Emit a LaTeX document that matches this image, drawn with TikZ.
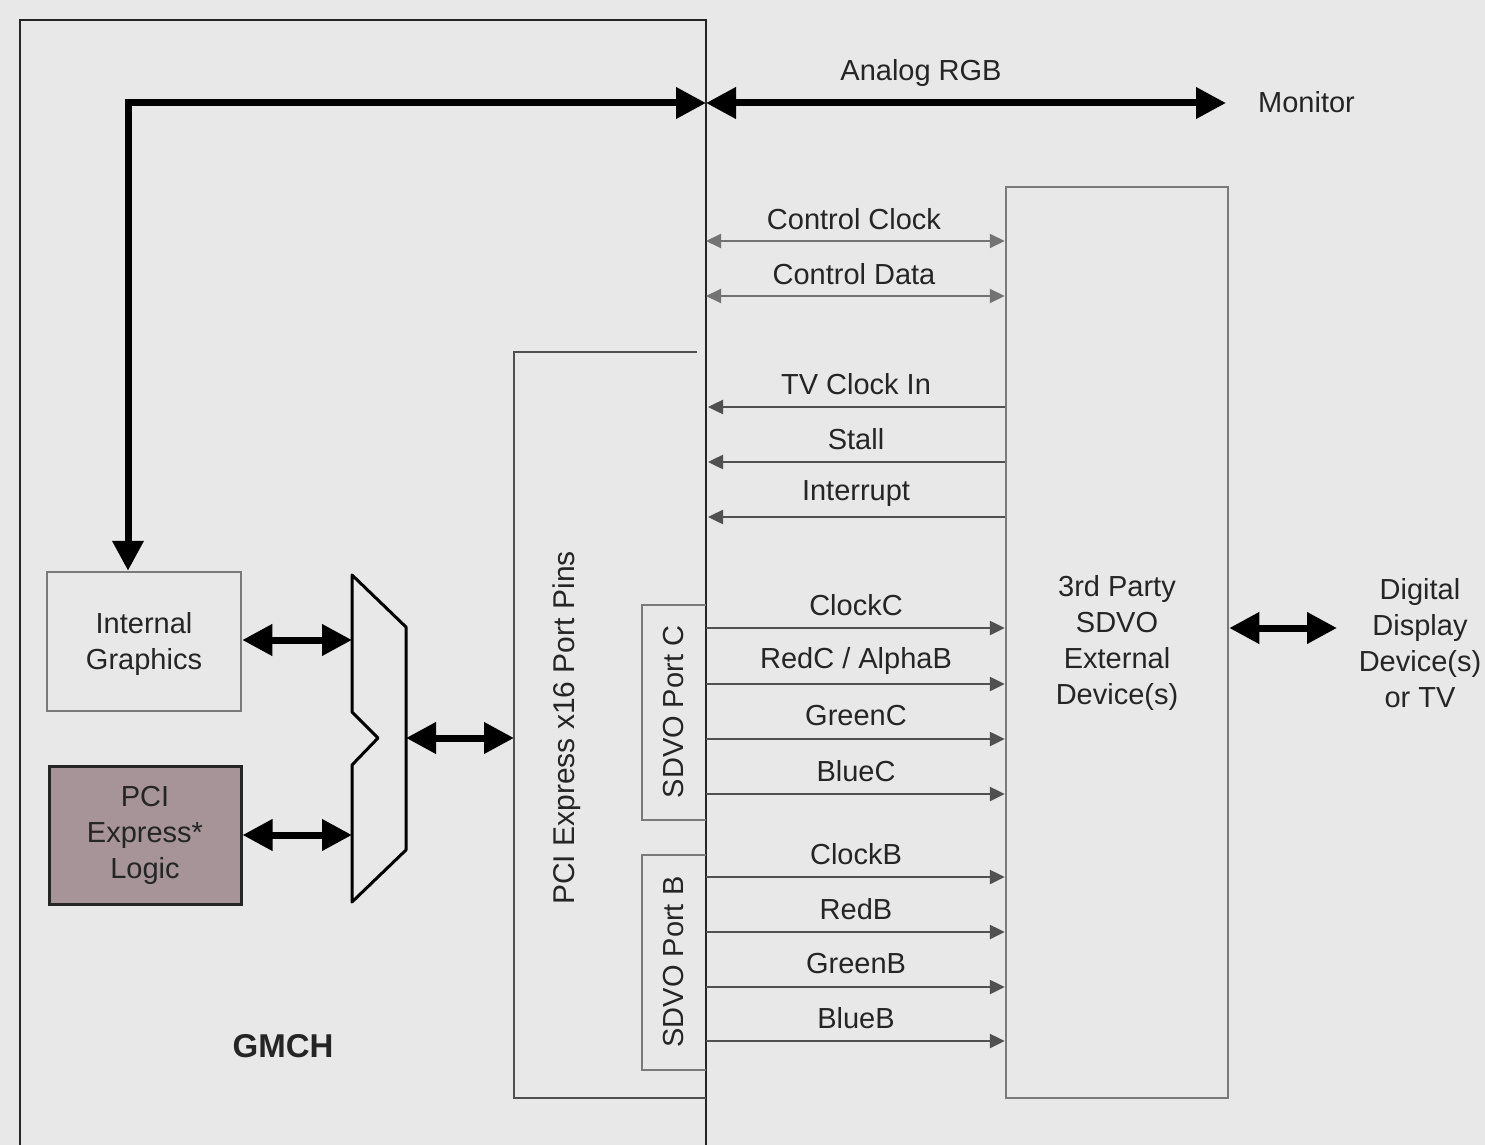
\documentclass[tikz,border=0pt]{standalone}
\usepackage{fontspec}
\setmainfont{Liberation Sans}
\usetikzlibrary{arrows.meta}
\definecolor{bg}{HTML}{E7E8E7}
\definecolor{pcifill}{HTML}{A69499}
\definecolor{ink}{HTML}{252525}
\definecolor{sigcol}{HTML}{505050}
\definecolor{boxcol}{HTML}{7A7A7A}
\begin{document}
\begin{tikzpicture}[x=1pt,y=-1pt,
  lbl/.style={font=\fontsize{29}{36}\selectfont, text=ink, inner sep=0pt, align=center},
  bigarrow/.style={line width=7pt, draw=black,
    {Triangle[length=30pt,width=30pt]}-{Triangle[length=30pt,width=30pt]}},
  sigright/.style={line width=2.5pt, draw=sigcol, -{Triangle[length=15pt,width=14pt]}},
  sigleft/.style={line width=2.5pt, draw=sigcol, {Triangle[length=15pt,width=14pt]}-},
  sigboth/.style={line width=2pt, draw=sigcol!80, {Triangle[length=15pt,width=14pt]}-{Triangle[length=15pt,width=14pt]}},
  greybox/.style={draw=boxcol, line width=2.5pt},
]
\useasboundingbox (0,0) rectangle (1485,1145);
\fill[bg] (0,0) rectangle (1485,1145);

% GMCH outline (open at bottom)
\draw[ink, line width=2.5pt] (20,1145) -- (20,20) -- (706,20) -- (706,1145);
\node[lbl, font=\fontsize{33}{36}\selectfont\bfseries] (gmch) at (283,1046) {GMCH};

% Internal graphics and PCI Express logic
\node[greybox, minimum width=194pt, minimum height=139pt, inner sep=0pt] (ig) at (144,641.5) {};
\node[lbl] (igt) at (ig.center) [yshift=-2pt] {Internal\\Graphics};
\node[draw=ink, line width=3pt, fill=pcifill, minimum width=192pt, minimum height=138pt, inner sep=0pt] (pl) at (145,835) {};
\node[lbl] (plt) at (pl.center) {PCI\\Express*\\Logic};

% Multiplexer
\draw[black, line width=3pt, line join=round]
  (352,575) -- (406,627) -- (406,850) -- (352,902) -- (352,765) -- (378,738) -- (352,712) -- cycle;
\coordinate (muxig) at (352,640);
\coordinate (muxpl) at (352,835);
\coordinate (muxout) at (406,738);

% PCI Express x16 port pins
\draw[sigcol, line width=2.5pt] (697,352) -- (514,352) -- (514,1098) -- (706,1098);
\coordinate (pinsin) at (514,738);
\node[lbl, rotate=90, font=\fontsize{30}{36}\selectfont] (pins) at (567,728) {PCI Express x16 Port Pins};

% SDVO ports
\draw[greybox] (706,605) -- (642,605) -- (642,820) -- (706,820);
\node[lbl, rotate=90] (portc) at (674,712) {SDVO Port C};
\draw[greybox] (706,855) -- (642,855) -- (642,1070) -- (706,1070);
\node[lbl, rotate=90] (portb) at (674,962) {SDVO Port B};

% 3rd party device
\node[greybox, minimum width=222pt, minimum height=911pt, inner sep=0pt] (tp) at (1117,642.5) {};
\node[lbl, align=center] (tpt) at (1117,643) {3rd Party\\SDVO\\External\\Device(s)};
\node[lbl, align=center] (dd) at (1420,643) {Digital\\Display\\Device(s)\\or TV};

% thick arrows
\draw[bigarrow] (ig.north -| 128,0) -- (128,103) -- (706,103);
\draw[bigarrow] (706,103) -- (1226,103);
\node[lbl] (argb) at (921,73) {Analog RGB};
\node[lbl, anchor=west] (mon) at (1258,102) {Monitor};
\draw[bigarrow] (ig.east |- muxig) -- (muxig);
\draw[bigarrow] (pl.east |- muxpl) -- (muxpl);
\draw[bigarrow] (muxout) -- (pinsin);
\draw[bigarrow] (tp.east |- 0,628) -- (1337,628);

% control signals
\draw[sigboth] (706,241) -- (tp.west |- 0,241);
\node[lbl] at (854,219) {Control Clock};
\draw[sigboth] (706,296) -- (tp.west |- 0,296);
\node[lbl] at (854,274) {Control Data};

\foreach \y/\t in {407/{TV Clock In}, 462/{Stall}, 517/{Interrupt}}{
  \draw[sigleft] (708,\y) -- (tp.west |- 0,\y);
  \node[lbl] at (856,\y-23) {\t};
}
\foreach \y/\t in {628/{ClockC}, 684/{RedC / AlphaB}, 739/{GreenC}, 794/{BlueC},
                   877/{ClockB}, 932/{RedB}, 987/{GreenB}, 1041/{BlueB}}{
  \draw[sigright] (706,\y) -- (tp.west |- 0,\y);
  \node[lbl] at (856,\y-23) {\t};
}
\end{tikzpicture}
\end{document}
